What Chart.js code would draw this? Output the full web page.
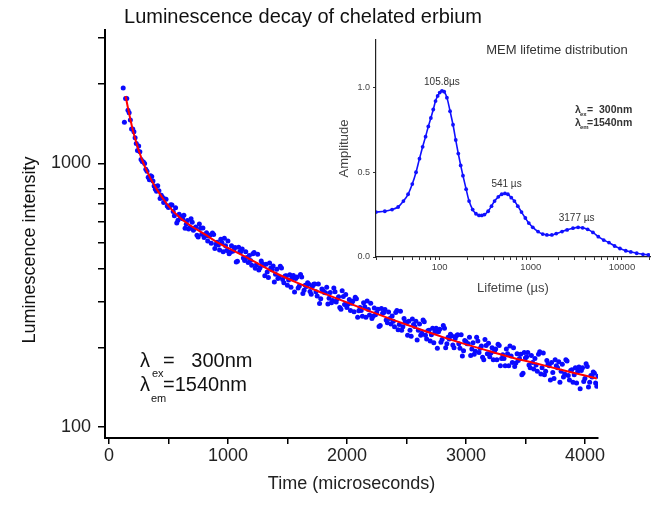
<!DOCTYPE html>
<html lang="en">
<head>
<meta charset="UTF-8">
<title>Luminescence decay of chelated erbium</title>
<script src="https://cdn.jsdelivr.net/npm/chart.js"></script>
<style>
    body { margin: 0; background: #fff; }
    .wrap { position: relative; width: 662px; height: 505px; }
    #decayChart { position: absolute; left: 0; top: 0; }
    #memChart { position: absolute; left: 330px; top: 30px; }
</style>
</head>
<body>
<div class="wrap">
    <canvas id="decayChart" width="662" height="505"></canvas>
    <canvas id="memChart" width="332" height="275"></canvas>
</div>
<script>
    // decay trace, read every 10 microseconds; two interleaved runs of 20 us spacing
    const sampleStep = 20;
    const startA = 120;
    const intensityA = [
        1930, 1760, 1590, 1460, 1350, 1249, 1117, 1106, 1015, 999, 933, 866, 892, 820, 784, 787, 756, 711, 730, 680,
        697, 656, 678, 608, 630, 616, 568, 607, 570, 598, 568, 534, 589, 538, 523, 546, 530, 498, 537, 493,
        490, 516, 462, 487, 508, 460, 464, 480, 425, 462, 473, 428, 440, 447, 411, 459, 413, 394, 426, 411,
        414, 369, 401, 408, 380, 366, 407, 363, 374, 345, 378, 367, 325, 371, 343, 371, 330, 341, 348, 319,
        348, 326, 349, 307, 329, 323, 293, 324, 302, 326, 307, 284, 329, 292, 284, 305, 295, 274, 307, 276,
        277, 296, 261, 279, 295, 263, 267, 280, 243, 270, 279, 249, 258, 264, 240, 277, 245, 233, 258, 248,
        252, 221, 245, 252, 233, 223, 255, 223, 232, 212, 237, 230, 199, 235, 215, 237, 207, 216, 222, 200,
        222, 207, 224, 195, 211, 207, 187, 209, 194, 212, 199, 184, 215, 190, 185, 200, 194, 180, 204, 182,
        182, 198, 171, 186, 200, 175, 179, 189, 160, 183, 192, 168, 176, 182, 163, 193, 168, 158, 179, 171,
        176, 153, 171, 177, 163, 155, 180, 157, 164, 148, 168, 163, 140, 168, 153, 170, 148, 155, 160, 143
    ];
    const startB = 130;
    const intensityB = [
        1430, 1761, 1553, 1349, 1316, 1188, 1163, 1034, 1012, 949, 886, 897, 856, 798, 822, 736, 744, 733, 689, 689,
        695, 633, 594, 641, 620, 635, 587, 564, 616, 557, 573, 526, 568, 569, 532, 508, 535, 544, 475, 502,
        469, 500, 520, 467, 454, 487, 469, 423, 481, 463, 438, 462, 421, 428, 454, 400, 452, 402, 416, 375,
        387, 419, 395, 355, 397, 371, 401, 353, 375, 361, 339, 376, 366, 337, 379, 321, 345, 353, 327, 341,
        349, 314, 294, 334, 324, 339, 308, 296, 337, 298, 312, 280, 313, 318, 293, 277, 301, 311, 261, 284,
        263, 286, 301, 266, 258, 283, 272, 241, 282, 272, 255, 273, 246, 252, 272, 234, 275, 240, 251, 223,
        233, 257, 241, 214, 246, 227, 251, 216, 233, 224, 209, 237, 230, 210, 243, 200, 219, 225, 205, 217,
        224, 199, 186, 213, 207, 219, 198, 189, 219, 192, 203, 180, 204, 208, 191, 180, 198, 206, 171, 188,
        171, 190, 203, 176, 170, 190, 182, 158, 192, 185, 172, 187, 166, 172, 189, 159, 191, 163, 173, 151,
        161, 180, 168, 148, 173, 159, 178, 151, 165, 158, 147, 169, 164, 149, 174, 142, 157, 162, 147, 156
    ];

    // fitted decay curve (red)
    const fitTimes = [140, 160, 180, 200, 225, 250, 300, 350, 400, 450, 500, 600, 700, 800, 900, 1000,
        1200, 1400, 1600, 1800, 2000, 2200, 2400, 2600, 2800, 3000, 3200, 3400, 3600, 3800, 4000, 4100];
    const fitValues = [1800, 1620, 1470, 1340, 1220, 1120, 975, 875, 800, 740, 690, 620, 575, 540, 505, 478,
        430, 384, 350, 322, 297, 274, 254, 236, 220, 206, 194, 183, 174, 165, 157, 153];

    const timeTicks = [0, 500, 1000, 1500, 2000, 2500, 3000, 3500, 4000];
    const intensityTicks = [100, 200, 300, 400, 500, 600, 700, 800, 1000, 2000, 3000];

    // inset: MEM lifetime distribution
    const lifetimes = [20, 25, 30, 35, 40, 45, 50, 55, 60, 65, 70, 75, 80, 85, 90, 95, 100, 106, 112, 120,
        130, 140, 150, 160, 170, 180, 195, 210, 230, 250, 270, 290, 310, 340, 370, 400, 440, 480, 520, 560,
        610, 660, 720, 790, 870, 950, 1050, 1200, 1350, 1500, 1700, 1900, 2200, 2500, 2900, 3300, 3700, 4200,
        4800, 5500, 6300, 7200, 8300, 9500, 11000, 12500, 14500, 17000, 19500];
    const amplitudes = [0.265, 0.27, 0.28, 0.295, 0.33, 0.37, 0.43, 0.50, 0.58, 0.65, 0.71, 0.77, 0.82, 0.87, 0.92, 0.95, 0.97, 0.98, 0.975, 0.94,
        0.86, 0.78, 0.69, 0.61, 0.54, 0.48, 0.40, 0.33, 0.28, 0.255, 0.245, 0.245, 0.25, 0.27, 0.30, 0.33, 0.355, 0.37, 0.375, 0.37,
        0.35, 0.33, 0.30, 0.265, 0.23, 0.20, 0.175, 0.15, 0.135, 0.13, 0.13, 0.138, 0.15, 0.16, 0.17, 0.175, 0.172, 0.163,
        0.145, 0.12, 0.10, 0.085, 0.065, 0.05, 0.037, 0.03, 0.022, 0.016, 0.013];
    const lifetimeTicks = [20, 30, 40, 50, 60, 70, 80, 90, 100, 200, 300, 400, 500, 600, 700, 800, 900,
        1000, 2000, 3000, 4000, 5000, 6000, 7000, 8000, 9000, 10000, 20000];
    const amplitudeTicks = [0, 0.5, 1.0];
    const peakTimes = [105.8, 541, 3177];
    const peakAmps = [0.98, 0.375, 0.175];
    const peakLabels = ['105.8µs', '541 µs', '3177 µs'];

    const FONT = "'Liberation Sans', Arial, Helvetica, sans-serif";

    const decayPoints = intensityA.map((v, i) => ({ x: startA + i * sampleStep, y: v }))
        .concat(intensityB.map((v, i) => ({ x: startB + i * sampleStep, y: v })));
    const fitPoints = fitTimes.map((t, i) => ({ x: t, y: fitValues[i] }));

    // title, y axis title and the wavelength note
    const decayText = {
        id: 'decayText',
        afterDraw(chart) {
            const ctx = chart.ctx;
            ctx.save();
            ctx.fillStyle = '#111';
            ctx.textAlign = 'center';
            ctx.textBaseline = 'middle';
            ctx.font = '20px ' + FONT;
            ctx.fillText('Luminescence decay of chelated erbium', 303, 17);
            ctx.translate(30, 250);
            ctx.rotate(-Math.PI / 2);
            ctx.font = '18px ' + FONT;
            ctx.fillText('Luminescence intensity', 0, 0);
            ctx.restore();

            ctx.save();
            ctx.fillStyle = '#111';
            ctx.textAlign = 'left';
            ctx.textBaseline = 'alphabetic';
            ctx.font = '20px ' + FONT;
            ctx.fillText('λ', 140, 367);
            ctx.fillText('=   300nm', 163, 367);
            ctx.fillText('λ', 140, 391);
            ctx.fillText('=1540nm', 163, 391);
            ctx.font = '11px ' + FONT;
            ctx.fillText('ex', 152, 377);
            ctx.fillText('em', 151, 402);
            ctx.restore();
        }
    };

    const memText = {
        id: 'memText',
        afterDraw(chart) {
            const ctx = chart.ctx;
            const xs = chart.scales.x;
            const ys = chart.scales.y;
            ctx.save();
            ctx.fillStyle = '#333';
            ctx.textAlign = 'center';
            ctx.textBaseline = 'middle';
            ctx.font = '13px ' + FONT;
            ctx.fillText('MEM lifetime distribution', 227, 20);
            ctx.font = '10px ' + FONT;
            ctx.textBaseline = 'bottom';
            peakLabels.forEach((lab, i) => {
                ctx.fillText(lab, xs.getPixelForValue(peakTimes[i]), ys.getPixelForValue(peakAmps[i]) - 4);
            });
            ctx.textAlign = 'left';
            ctx.textBaseline = 'alphabetic';
            ctx.font = 'bold 10.5px ' + FONT;
            ctx.fillText('λ', 245, 83);
            ctx.fillText('=  300nm', 257, 83);
            ctx.fillText('λ', 245, 96);
            ctx.fillText('=1540nm', 257, 96);
            ctx.font = 'bold 6px ' + FONT;
            ctx.fillText('ex', 250, 86);
            ctx.fillText('em', 250, 99);
            ctx.restore();
        }
    };

    new Chart(document.getElementById('decayChart'), {
        type: 'scatter',
        data: {
            datasets: [{
                label: 'Fit',
                type: 'line',
                data: fitPoints,
                borderColor: '#ff0000',
                borderWidth: 2,
                pointRadius: 0,
                cubicInterpolationMode: 'monotone',
                order: 0
            }, {
                label: 'Data',
                data: decayPoints,
                backgroundColor: '#0a0aff',
                borderWidth: 0,
                pointRadius: 2.5,
                order: 1
            }]
        },
        options: {
            responsive: false,
            animation: false,
            events: [],
            layout: { padding: { left: 0, top: 30, right: 64, bottom: 0 } },
            plugins: { legend: { display: false }, tooltip: { enabled: false } },
            scales: {
                x: {
                    type: 'linear',
                    min: -33,
                    max: 4110,
                    afterBuildTicks: s => { s.ticks = timeTicks.map(v => ({ value: v })); },
                    afterFit: s => { s.height = 67; },
                    ticks: {
                        callback: v => (v % 1000 === 0 ? String(v) : ''),
                        font: { size: 18, family: FONT },
                        color: '#222',
                        padding: 1,
                        maxRotation: 0,
                        autoSkip: false
                    },
                    grid: { drawOnChartArea: false, tickLength: 6, color: '#000', lineWidth: 1.5 },
                    border: { color: '#000', width: 2 },
                    title: {
                        display: true,
                        text: 'Time (microseconds)',
                        font: { size: 18, family: FONT },
                        color: '#222',
                        padding: { top: 0, bottom: 10 }
                    }
                },
                y: {
                    type: 'logarithmic',
                    min: 91,
                    max: 3200,
                    afterBuildTicks: s => { s.ticks = intensityTicks.map(v => ({ value: v })); },
                    afterFit: s => { s.width = 105; },
                    ticks: {
                        callback: v => (v === 100 || v === 1000 ? String(v) : ''),
                        font: { size: 18, family: FONT },
                        color: '#222',
                        padding: 7,
                        autoSkip: false
                    },
                    grid: { drawOnChartArea: false, tickLength: 7, color: '#000', lineWidth: 1.5 },
                    border: { color: '#000', width: 2 }
                }
            }
        },
        plugins: [decayText]
    });

    new Chart(document.getElementById('memChart'), {
        type: 'scatter',
        data: {
            datasets: [{
                label: 'MEM',
                data: lifetimes.map((t, i) => ({ x: t, y: amplitudes[i] })),
                showLine: true,
                borderColor: '#1010ff',
                backgroundColor: '#1010ff',
                borderWidth: 1.6,
                pointRadius: 1.9,
                pointBorderWidth: 0,
                tension: 0.3
            }]
        },
        options: {
            responsive: false,
            animation: false,
            events: [],
            layout: { padding: { left: 0, top: 10, right: 12, bottom: 0 } },
            plugins: { legend: { display: false }, tooltip: { enabled: false } },
            scales: {
                x: {
                    type: 'logarithmic',
                    min: 20,
                    max: 20300,
                    afterBuildTicks: s => { s.ticks = lifetimeTicks.map(v => ({ value: v })); },
                    afterFit: s => { s.height = 48; },
                    ticks: {
                        callback: v => ([100, 1000, 10000].includes(v) ? String(v) : ''),
                        font: { size: 9.5, family: FONT },
                        color: '#444',
                        padding: 2,
                        maxRotation: 0,
                        autoSkip: false
                    },
                    grid: { drawOnChartArea: false, tickLength: 3, color: '#333', lineWidth: 1 },
                    border: { color: '#222', width: 1.2 },
                    title: {
                        display: true,
                        text: 'Lifetime (µs)',
                        font: { size: 13, family: FONT },
                        color: '#444',
                        padding: { top: 0, bottom: 9 }
                    }
                },
                y: {
                    type: 'linear',
                    min: 0,
                    max: 1.28,
                    afterBuildTicks: s => { s.ticks = amplitudeTicks.map(v => ({ value: v })); },
                    afterFit: s => { s.width = 46; },
                    ticks: {
                        callback: v => v.toFixed(1),
                        font: { size: 9, family: FONT },
                        color: '#444',
                        padding: 3
                    },
                    grid: { drawOnChartArea: false, tickLength: 3, color: '#333', lineWidth: 1 },
                    border: { color: '#222', width: 1.2 },
                    title: {
                        display: true,
                        text: 'Amplitude',
                        font: { size: 13, family: FONT },
                        color: '#444',
                        padding: { top: 7, bottom: 0 }
                    }
                }
            }
        },
        plugins: [memText]
    });
</script>
</body>
</html>
